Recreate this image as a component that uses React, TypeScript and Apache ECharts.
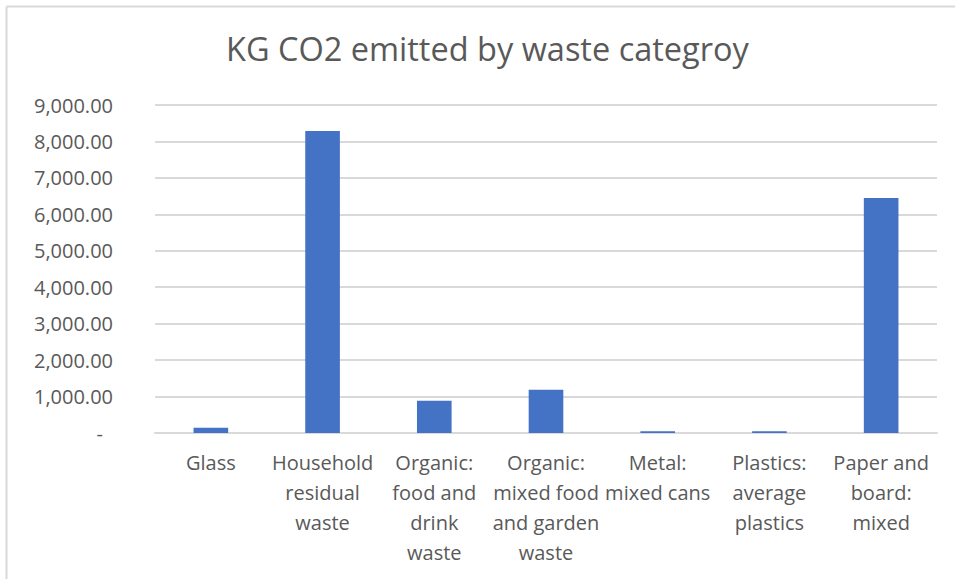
import React, { useEffect, useRef } from "react";
import * as echarts from "echarts";

const categories = [
  "Glass",
  "Household residual waste",
  "Organic: food and drink waste",
  "Organic: mixed food and garden waste",
  "Metal: mixed cans",
  "Plastics: average plastics",
  "Paper and board: mixed",
];
const categoryLabels = [
  "Glass",
  "Household\nresidual\nwaste",
  "Organic:\nfood and\ndrink\nwaste",
  "Organic:\nmixed food\nand garden\nwaste",
  "Metal:\nmixed cans",
  "Plastics:\naverage\nplastics",
  "Paper and\nboard:\nmixed",
];
const values = [145, 8290, 886, 1190, 50, 50, 6450];
const yMin = 0;
const yMax = 9000;
const yInterval = 1000;

const FONT = "'Open Sans', 'Noto Sans', sans-serif";
const TEXT = "#595959";
const GRID = "#d9d9d9";

export default function App() {
  const ref = useRef<HTMLDivElement>(null);
  useEffect(() => {
    if (!ref.current) return;
    const chart = echarts.init(ref.current, null, { renderer: "svg" });
    chart.setOption({
      animation: false,
      backgroundColor: "#ffffff",
      title: {
        text: "KG CO2 emitted by waste categroy",
        left: 221,
        top: 27,
        textStyle: { fontFamily: FONT, fontSize: 32.5, fontWeight: "normal", color: TEXT },
      },
      graphic: [
        { type: "line", shape: { x1: 6.5, y1: 6.5, x2: 955, y2: 6.5 }, style: { stroke: GRID, lineWidth: 2 } },
        { type: "line", shape: { x1: 6.5, y1: 6.5, x2: 6.5, y2: 579 }, style: { stroke: GRID, lineWidth: 2 } },
      ],
      grid: { left: 155, right: 18, top: 105, bottom: 146 },
      xAxis: {
        type: "category",
        data: categories,
        axisLine: { show: true, lineStyle: { color: GRID, width: 2 } },
        axisTick: { show: false },
        axisLabel: {
          interval: 0,
          margin: 14,
          fontFamily: FONT,
          fontSize: 20,
          color: TEXT,
          lineHeight: 30,
          formatter: (_v: string, i: number) => categoryLabels[i],
        },
      },
      yAxis: {
        type: "value",
        min: yMin,
        max: yMax,
        interval: yInterval,
        axisLine: { show: false },
        axisTick: { show: false },
        splitLine: { lineStyle: { color: GRID, width: 2 } },
        axisLabel: {
          margin: 42,
          fontFamily: FONT,
          fontSize: 20,
          color: TEXT,
          formatter: (v: number) =>
            v === 0
              ? "{d|-}"
              : v.toLocaleString("en-US", { minimumFractionDigits: 2, maximumFractionDigits: 2 }),
          rich: {
            d: { fontFamily: FONT, fontSize: 20, color: TEXT, padding: [0, 10, 0, 0] },
          },
        },
      },
      series: [
        {
          type: "bar",
          data: values,
          barWidth: "31%",
          itemStyle: { color: "#4472C4" },
        },
      ],
    });
    return () => chart.dispose();
  }, []);
  return (
    <div
      ref={ref}
      style={{ position: "absolute", left: 0, top: 0, width: 955, height: 579 }}
    />
  );
}
